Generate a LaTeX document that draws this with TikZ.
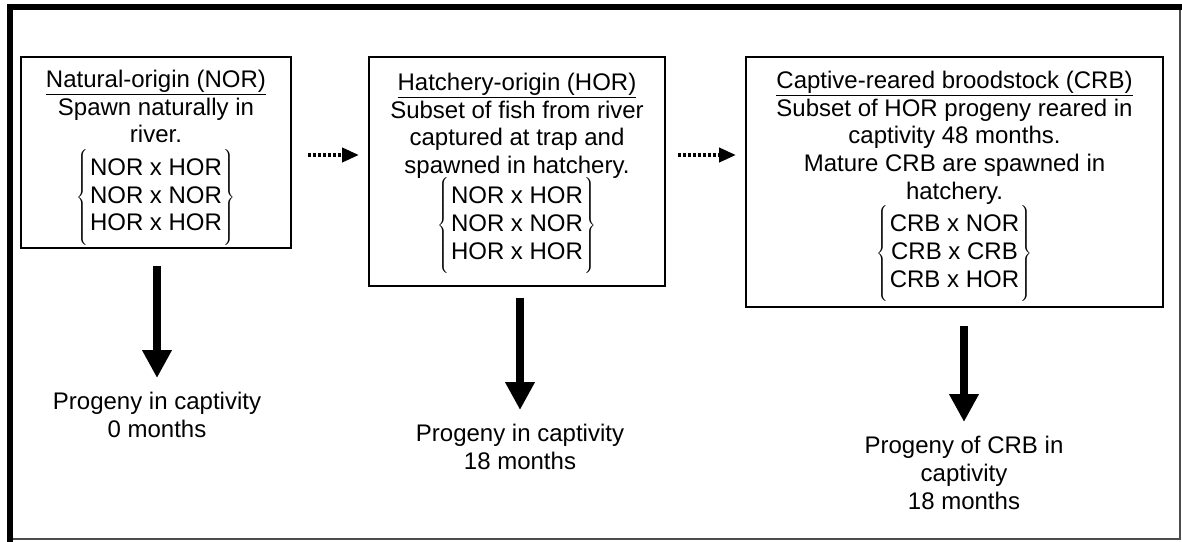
\documentclass[tikz,border=0pt]{standalone}
\usepackage{fontspec}
\setmainfont{Liberation Sans}
\usetikzlibrary{arrows.meta}

% looks of the boxes, texts and arrows
\tikzset{
  stagebox/.style={draw, line width=1.5pt, align=center, inner sep=0pt,
    font=\fontsize{18}{20.75}\selectfont},
  progtext/.style={align=center, inner sep=0pt, font=\fontsize{18}{21}\selectfont},
  dotarrow/.style={line width=3pt, dash pattern=on 2.25pt off 1.5pt,
    -{Triangle[length=12.75pt,width=10.5pt]}},
  downarrow/.style={line width=6pt, -{Triangle[length=21pt,width=21pt]}},
}

% underlined title without depth, with some room above
\newcommand{\stagetitle}[2][0pt]{\raisebox{0pt}[\dimexpr\height+#1\relax][0pt]{\underline{#2}}}
% three crosses between braces
\newcommand{\pairings}[3]{$\left\{\rule[-31.5pt]{0pt}{72pt}\begin{tabular}{@{\hspace{1pt}}c@{\hspace{1pt}}}#1\\#2\\#3\end{tabular}\right\}$}

\begin{document}
\begin{tikzpicture}[x=0.75pt, y=-0.75pt]

\useasboundingbox (0,0) rectangle (1182,542);

% Frame
\draw[line width=1.2pt, black!70] (1180,7) -- (1180,539) -- (10,539);
\draw[line width=4.5pt] (10,542) -- (10,7.5) -- (1182,7.5);

% Stage boxes
\node[stagebox, minimum width=202.5pt, minimum height=143.25pt] (nor) at (156,152.5)
  {\stagetitle[8.25pt]{Natural-origin (NOR)}\\ Spawn naturally in\\ river.\\[3.75pt]
   \pairings{NOR x HOR}{NOR x NOR}{HOR x HOR}};
\node[stagebox, minimum width=222pt, minimum height=171.75pt] (hor) at (517,171.5)
  {\stagetitle[3pt]{Hatchery-origin (HOR)}\\ Subset of fish from river\\ captured at trap and\\
   spawned in hatchery.\\[-1.5pt] \pairings{NOR x HOR}{NOR x NOR}{HOR x HOR}};
\node[stagebox, minimum width=312.75pt, minimum height=187.5pt] (crb) at (954.5,182)
  {\stagetitle[6.75pt]{Captive-reared broodstock (CRB)}\\ Subset of HOR progeny reared in\\
   captivity 48 months.\\ Mature CRB are spawned in\\ hatchery.\\
   \pairings{CRB x NOR}{CRB x CRB}{CRB x HOR}};

% Progeny
\node[progtext, anchor=north] (prognor) at (157,392) {Progeny in captivity\\ 0 months};
\node[progtext, anchor=north] (proghor) at (520,424) {Progeny in captivity\\ 18 months};
\node[progtext, anchor=north] (progcrb) at (964,436) {Progeny of CRB in\\ captivity\\ 18 months};

% Dotted arrows between stages
\draw[dotarrow, shorten <=12pt, shorten >=6.75pt] (nor.east |- 0,155) -- (hor.west |- 0,155);
\draw[dotarrow, shorten <=9pt, shorten >=6.75pt] (hor.east |- 0,155) -- (crb.west |- 0,155);

% Arrows down to progeny
\draw[downarrow, shorten <=12.75pt, shorten >=10.5pt] (nor.south -| prognor.north) -- (prognor.north);
\draw[downarrow, shorten <=8.25pt, shorten >=10.5pt] (hor.south -| proghor.north) -- (proghor.north);
\draw[downarrow, shorten <=13.5pt, shorten >=10.5pt] (crb.south -| progcrb.north) -- (progcrb.north);

\end{tikzpicture}
\end{document}
